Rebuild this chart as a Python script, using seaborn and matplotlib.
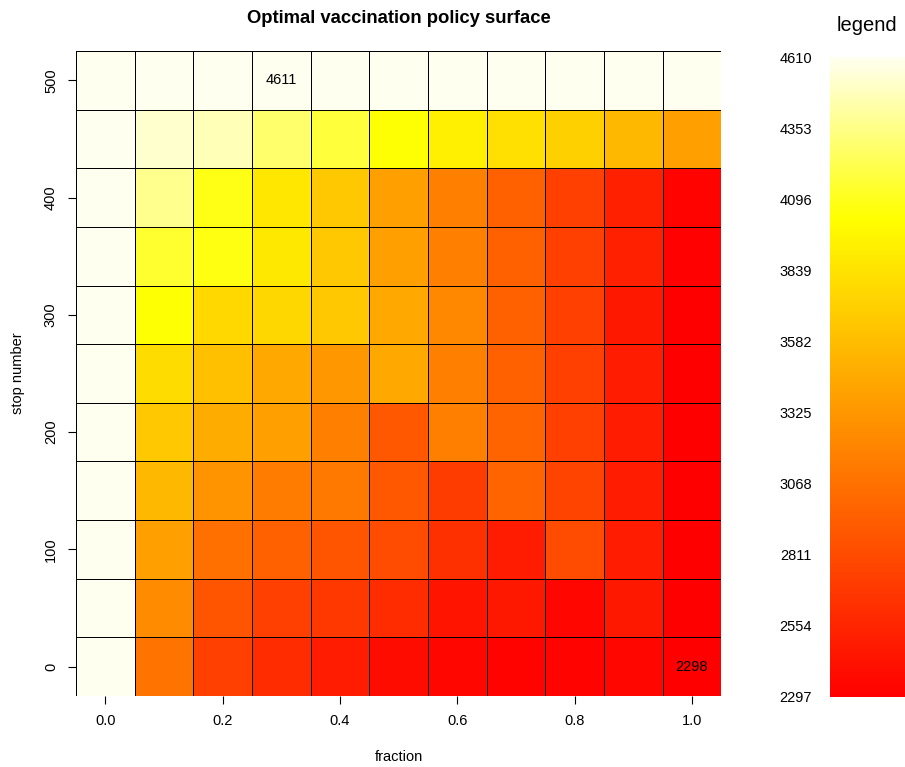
import matplotlib
matplotlib.use("Agg")
import matplotlib.pyplot as plt
from matplotlib.colors import LinearSegmentedColormap
import numpy as np
import pandas as pd
import seaborn as sns

fractions = [0.0, 0.1, 0.2, 0.3, 0.4, 0.5, 0.6, 0.7, 0.8, 0.9, 1.0]
stop_numbers = [500, 450, 400, 350, 300, 250, 200, 150, 100, 50, 0]

# cost per cell, one list per stop number (top row first)
cost_500 = [4611, 4611, 4611, 4611, 4611, 4611, 4611, 4611, 4611, 4611, 4611]
cost_450 = [4611, 4523, 4475, 4287, 4172, 4035, 3916, 3821, 3712, 3549, 3385]
cost_400 = [4611, 4369, 4080, 3863, 3658, 3385, 3168, 2950, 2732, 2515, 2320]
cost_350 = [4611, 4150, 4070, 3876, 3658, 3385, 3168, 2950, 2732, 2515, 2310]
cost_300 = [4611, 4040, 3766, 3760, 3658, 3440, 3222, 2950, 2732, 2460, 2300]
cost_250 = [4611, 3794, 3603, 3440, 3331, 3440, 3168, 2950, 2732, 2487, 2300]
cost_200 = [4611, 3658, 3467, 3385, 3168, 2896, 3168, 2977, 2732, 2487, 2305]
cost_150 = [4611, 3549, 3304, 3140, 3113, 2896, 2705, 2977, 2760, 2487, 2305]
cost_100 = [4611, 3385, 3059, 2950, 2868, 2814, 2624, 2487, 2814, 2487, 2300]
cost_50 = [4611, 3249, 2868, 2732, 2678, 2596, 2433, 2460, 2351, 2460, 2300]
cost_0 = [4611, 3086, 2732, 2596, 2487, 2379, 2351, 2324, 2324, 2351, 2298]

legend_ticks = [4610, 4353, 4096, 3839, 3582, 3325, 3068, 2811, 2554, 2297]

rows = [cost_500, cost_450, cost_400, cost_350, cost_300, cost_250,
        cost_200, cost_150, cost_100, cost_50, cost_0]
df = pd.DataFrame(rows, index=stop_numbers, columns=fractions)

# heat.colors style: red -> yellow -> near white
heat = LinearSegmentedColormap.from_list(
    "heat", [(0.0, "#FF0000"), (0.75, "#FFFF00"), (1.0, "#FFFFF0")])

plt.rcParams['font.family'] = ['Liberation Sans', 'DejaVu Sans']

fig = plt.figure(figsize=(9.05, 7.67), dpi=100)
ax = fig.add_axes([0.084, 0.0926, 0.713, 0.8409])
cax = fig.add_axes([0.917, 0.0913, 0.083, 0.834])

lo, hi = min(map(min, rows)), max(map(max, rows))
annot = np.full(df.shape, "", dtype=object)
annot[0, 3] = str(hi)
annot[-1, -1] = str(lo)

sns.heatmap(df, ax=ax, cbar_ax=cax, cmap=heat, vmin=2297, vmax=4611,
            linewidths=0.5, linecolor="black", annot=annot, fmt="",
            annot_kws={"fontsize": 10.5, "color": "black"})

ax.set_xticks([0.5, 2.5, 4.5, 6.5, 8.5, 10.5])
ax.set_xticklabels(["0.0", "0.2", "0.4", "0.6", "0.8", "1.0"], rotation=0)
ax.set_yticks([0.5, 2.5, 4.5, 6.5, 8.5, 10.5])
ax.set_yticklabels(["500", "400", "300", "200", "100", "0"], rotation=90, va="center")
ax.tick_params(labelsize=10.5, length=6, width=0.8, pad=7)
ax.set_xlabel("fraction", fontsize=10.5, labelpad=16)
ax.set_ylabel("stop number", fontsize=10.5, labelpad=14)
ax.set_title("Optimal vaccination policy surface", fontsize=13.3, fontweight="bold", pad=20)

cax.yaxis.set_ticks_position("left")
cax.set_yticks(legend_ticks)
cax.set_yticklabels([str(t) for t in legend_ticks])
cax.tick_params(length=0, labelsize=10.5, pad=13)
cax.set_ylim(2297, 4610)
for s in cax.spines.values():
    s.set_visible(False)
fig.text(0.958, 0.967, "legend", ha="center", va="center", fontsize=14.5)

fig.savefig("out.png", dpi=100)
